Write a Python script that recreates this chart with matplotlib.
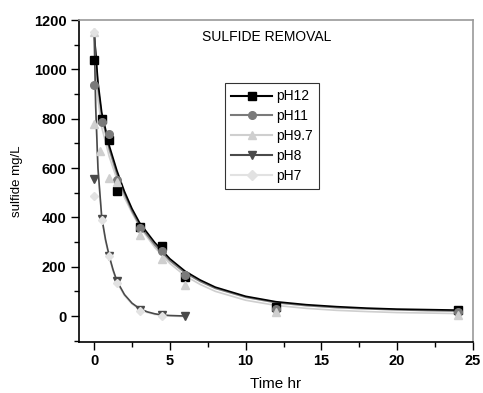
import matplotlib
matplotlib.use('Agg')
import matplotlib.pyplot as plt
from matplotlib.ticker import MultipleLocator

plt.rcParams['font.family'] = ['Liberation Sans', 'DejaVu Sans']

# measured points
t_long = [0, 0.5, 1, 1.5, 3, 4.5, 6, 12, 24]
t_short = [0, 0.5, 1, 1.5, 3, 4.5, 6]
ph12 = [1040, 800, 715, 505, 360, 285, 160, 35, 25]
ph11 = [935, 785, 738, 550, 355, 265, 165, 30, 15]
t_ph97 = [0, 0, 0.4, 1, 1.5, 3, 4.5, 6, 12, 24]
ph97 = [1150, 780, 670, 560, 545, 330, 230, 125, 15, 5]
ph8 = [555, 395, 245, 140, 25, 5, 0]
t_ph7 = [0, 0, 0.5, 1, 1.5, 3, 4.5]
ph7 = [1150, 485, 390, 245, 135, 20, 2]

# fitted curves
fit_t = [0, 0.25, 0.5, 1, 1.5, 2, 2.5, 3, 4, 5, 6, 7, 8, 10, 12, 14, 16, 18, 20, 22, 24]
fit12 = [1150, 950, 825, 690, 590, 505, 435, 378, 298, 232, 182, 146, 117, 80, 58, 46, 38, 32, 28, 26, 24]
fit11 = [1150, 930, 810, 675, 575, 495, 425, 368, 288, 224, 175, 140, 112, 76, 54, 42, 34, 29, 25, 22, 20]
fit97 = [1150, 880, 765, 645, 555, 480, 418, 362, 278, 213, 163, 128, 100, 64, 43, 31, 23, 18, 14, 12, 10]
fit_t2 = [0, 0.1, 0.25, 0.5, 0.75, 1, 1.25, 1.5, 2, 2.5, 3, 3.5, 4, 4.5, 5, 6]
fit8 = [1150, 850, 600, 400, 310, 242, 187, 142, 87, 52, 30, 17, 9, 4, 2, 0]
fit7 = [1150, 840, 590, 392, 302, 235, 180, 136, 82, 48, 26, 14, 6, 2, 0, -3]

fig = plt.figure(figsize=(4.83, 3.93), dpi=100)
ax = fig.add_axes([0.1636, 0.130, 0.8154, 0.819])

c12, c11, c97, c8, c7 = '#000000', '#7a7a7a', '#cfcfcf', '#4a4a4a', '#e2e2e2'

ax.plot(fit_t, fit97, color=c97, lw=1.2)
ax.plot(fit_t, fit11, color=c11, lw=1.2)
ax.plot(fit_t, fit12, color=c12, lw=1.2)
ax.plot(fit_t2, fit7, color=c7, lw=1.2)
ax.plot(fit_t2, fit8, color=c8, lw=1.2)

ax.plot(t_long, ph12, ls='none', marker='s', ms=5.5, color=c12)
ax.plot(t_long, ph11, ls='none', marker='o', ms=5.5, color=c11)
ax.plot(t_ph97, ph97, ls='none', marker='^', ms=5.5, color=c97)
ax.plot(t_short, ph8, ls='none', marker='v', ms=5.5, color=c8)
ax.plot(t_ph7, ph7, ls='none', marker='D', ms=4.5, color=c7)

# legend handles: line + marker
h = []
for col, mk, lab in [(c12, 's', 'pH12'), (c11, 'o', 'pH11'), (c97, '^', 'pH9.7'),
                     (c8, 'v', 'pH8'), (c7, 'D', 'pH7')]:
    h.append(ax.plot([], [], color=col, marker=mk, ms=5.5, lw=1.5, label=lab)[0])
leg = ax.legend(handles=h, loc='upper left', bbox_to_anchor=(0.371, 0.804),
                frameon=True, fancybox=False, edgecolor='black',
                fontsize=10, handlelength=2.9, handletextpad=0.3,
                borderpad=0.45, labelspacing=0.42, borderaxespad=0)
leg.get_frame().set_linewidth(0.8)

ax.text(11.4, 1131, 'SULFIDE REMOVAL', fontsize=10, ha='center', va='center')

ax.set_xlim(-1, 25)
ax.set_ylim(-105, 1200)
ax.xaxis.set_major_locator(MultipleLocator(5))
ax.xaxis.set_minor_locator(MultipleLocator(2.5))
ax.yaxis.set_major_locator(MultipleLocator(200))
ax.yaxis.set_minor_locator(MultipleLocator(100))
ax.tick_params(which='both', direction='out', top=False, right=False)
ax.tick_params(which='major', length=6, width=1, labelsize=10.5, pad=3)
ax.tick_params(which='minor', length=3.5, width=1)
for lbl in ax.get_xticklabels() + ax.get_yticklabels():
    lbl.set_fontweight('bold')

for s in ['left', 'bottom']:
    ax.spines[s].set_linewidth(1.2)
for s in ['top', 'right']:
    ax.spines[s].set_color('#9a9a9a')
    ax.spines[s].set_linewidth(1.2)

ax.set_xlabel('Time hr', fontsize=11, labelpad=6)
ax.set_ylabel('sulfide mg/L', fontsize=9.5, labelpad=8)

fig.savefig('out.png', dpi=100)
